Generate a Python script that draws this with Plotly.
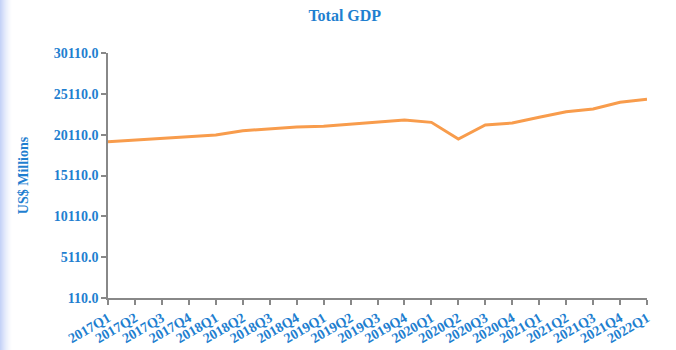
import plotly.graph_objects as go

quarters = ["2017Q1", "2017Q2", "2017Q3", "2017Q4", "2018Q1", "2018Q2", "2018Q3", "2018Q4",
            "2019Q1", "2019Q2", "2019Q3", "2019Q4", "2020Q1", "2020Q2", "2020Q3", "2020Q4",
            "2021Q1", "2021Q2", "2021Q3", "2021Q4", "2022Q1"]
gdp = [19250, 19460, 19660, 19860, 20070, 20600, 20840, 21050,
       21140, 21380, 21620, 21900, 21620, 19580, 21290, 21540,
       22240, 22920, 23250, 24070, 24440]
y_ticks = [110, 5110, 10110, 15110, 20110, 25110, 30110]
y_tick_labels = ["110.0", "5110.0", "10110.0", "15110.0", "20110.0", "25110.0", "30110.0"]

BLUE = "#1F7FD0"
FONT = "Liberation Serif"

fig = go.Figure()
fig.add_trace(go.Scatter(
    x=list(range(len(quarters))), y=gdp, mode="lines",
    line=dict(color="#F89C4C", width=3),
    hoverinfo="skip", showlegend=False,
))

# left edge gradient
shapes = []
n = 12
for i in range(n):
    shapes.append(dict(type="rect", xref="paper", yref="paper",
                       x0=(-108 + i) / 539, x1=(-108 + i + 1) / 539,
                       y0=-52 / 245, y1=(245 + 53) / 245,
                       fillcolor="rgba(150,175,240,%.3f)" % (0.55 * (1 - i / n) ** 1.5),
                       line=dict(width=0), layer="below"))

fig.update_layout(
    width=676, height=350,
    margin=dict(l=108, r=29, t=53, b=52),
    paper_bgcolor="white", plot_bgcolor="white",
    title=dict(text="<b>Total GDP</b>", x=0.51, xanchor="center", y=0.955, yanchor="middle",
               font=dict(family=FONT, size=16, color=BLUE)),
    shapes=shapes,
    xaxis=dict(
        range=[0, len(quarters) - 1], automargin=False,
        tickmode="array", tickvals=list(range(len(quarters))),
        ticktext=["<b>%s</b>" % q for q in quarters],
        tickangle=-30, ticks="outside", ticklen=5, tickcolor="#888888", tickwidth=1.5,
        showline=True, linecolor="#888888", linewidth=1.5,
        showgrid=False, zeroline=False,
        tickfont=dict(family=FONT, size=14, color=BLUE),
    ),
    yaxis=dict(
        range=[110, 30110], automargin=False,
        tickmode="array", tickvals=y_ticks,
        ticktext=["<b>%s</b>" % t for t in y_tick_labels],
        ticks="outside", ticklen=5, tickcolor="#888888", tickwidth=1.5,
        showline=True, linecolor="#888888", linewidth=1.5,
        showgrid=False, zeroline=False,
        tickfont=dict(family=FONT, size=14, color=BLUE),
        title=dict(text="<b>US$ Millions</b>", standoff=22,
                   font=dict(family=FONT, size=14, color=BLUE)),
    ),
)

fig.write_html("out.html")
